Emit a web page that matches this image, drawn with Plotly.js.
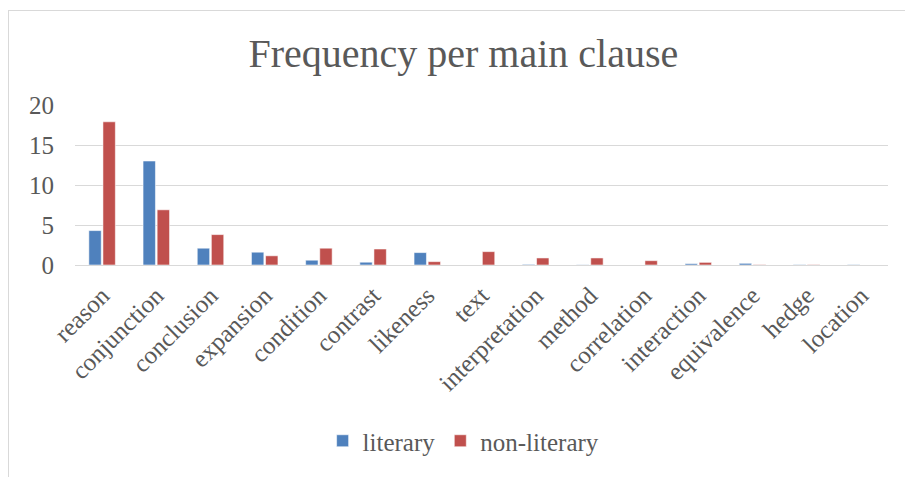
<!DOCTYPE html>
<html>
<head>
<meta charset="utf-8">
<script src="https://cdn.plot.ly/plotly-3.0.1.min.js"></script>
<style>
  html, body { margin: 0; padding: 0; background: #ffffff; }
  #wrap { position: relative; width: 905px; height: 477px; overflow: hidden; }
  #frame { position: absolute; left: 8px; top: 10px; width: 1200px; height: 1200px;
           border: 1px solid #d9d9d9; box-sizing: border-box; pointer-events: none; }
  #chart { position: absolute; left: 0; top: 0; width: 905px; height: 477px; }
</style>
</head>
<body>
<div id="wrap">
  <div id="chart"></div>
  <div id="frame"></div>
</div>
<script>
const categories = ["reason", "conjunction", "conclusion", "expansion", "condition", "contrast",
  "likeness", "text", "interpretation", "method", "correlation", "interaction",
  "equivalence", "hedge", "location"];
const literary = [4.3, 13.0, 2.1, 1.6, 0.6, 0.35, 1.55, 0, 0.08, 0.03, 0, 0.17, 0.21, 0.05, 0.05];
const nonLiterary = [17.9, 6.9, 3.8, 1.15, 2.1, 2.0, 0.42, 1.67, 0.88, 0.88, 0.54, 0.33, 0.05, 0.05, 0];
const yTicks = [0, 5, 10, 15, 20];

const FONT = "Liberation Serif, Times New Roman, serif";
const GRAY = "#595959";

const traces = [
  { type: "bar", name: "literary", x: categories, y: literary,
    marker: { color: "#4F81BD", line: { color: "rgba(255,255,255,0.55)", width: 1 } } },
  { type: "bar", name: "non-literary", x: categories, y: nonLiterary,
    marker: { color: "#C0504D", line: { color: "rgba(255,255,255,0.55)", width: 1 } } }
];

const layout = {
  width: 905, height: 477,
  margin: { l: 75, r: 17, t: 105, b: 212 },
  paper_bgcolor: "rgba(0,0,0,0)",
  plot_bgcolor: "rgba(0,0,0,0)",
  font: { family: FONT, color: GRAY, size: 25 },
  title: { text: "Frequency per main clause", font: { family: FONT, size: 40, color: GRAY },
           x: 0.512, xref: "container", xanchor: "center", y: 0.888, yref: "container", yanchor: "middle" },
  barmode: "group",
  bargap: 0.48,
  bargroupgap: 0.12,
  showlegend: true,
  legend: { orientation: "h", x: 0.478, xanchor: "center", y: -1.1, yanchor: "middle",
            font: { family: FONT, size: 25, color: GRAY }, bgcolor: "rgba(0,0,0,0)" },
  xaxis: {
    type: "category",
    tickangle: -45,
    tickfont: { family: FONT, size: 25, color: GRAY },
    showgrid: false,
    showline: true, linecolor: "#d9d9d9", linewidth: 1,
    ticks: "", ticklabelstandoff: 5,
    automargin: false
  },
  yaxis: {
    range: [0, 20],
    tickvals: yTicks,
    ticktext: yTicks.map(String),
    tickfont: { family: FONT, size: 25, color: GRAY },
    showgrid: true, gridcolor: "#d9d9d9", gridwidth: 1,
    zeroline: true, zerolinecolor: "#d9d9d9", zerolinewidth: 1,
    showline: false, ticks: "", ticklabelstandoff: 20,
    automargin: false
  }
};

Plotly.newPlot("chart", traces, layout, { displayModeBar: false, staticPlot: true });
</script>
</body>
</html>
